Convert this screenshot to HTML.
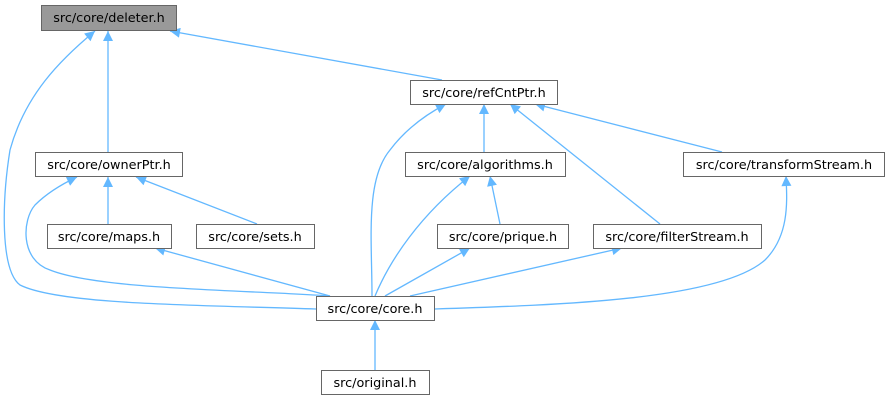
<!DOCTYPE html>
<html><head><meta charset="utf-8"><style>
html,body{margin:0;padding:0;background:#fff;}
svg{display:block;}
text{font-family:"DejaVu Sans","Liberation Sans",sans-serif;font-size:12.8px;fill:#000;}
</style></head><body>
<svg width="889" height="403" viewBox="0 0 889 403" xmlns="http://www.w3.org/2000/svg">
<defs>
<marker id="a" viewBox="0 0 10 10" refX="10" refY="5" markerWidth="11" markerHeight="10" markerUnits="userSpaceOnUse" orient="auto">
<path d="M0,0 L10,5 L0,10 z" fill="#63b8ff"/>
</marker>
</defs>
<g fill="none" stroke="#63b8ff" stroke-width="1.3" marker-end="url(#a)">
<path d="M108,152 L108,31"/>
<path d="M442,80 L170,31"/>
<path d="M316,309 C200,305 60,305 20,285 C0,270 2,200 10,150 C25,95 60,60 95,31"/>
<path d="M484,152 L484,104"/>
<path d="M372,296 C372,240 365,180 390,150 C405,130 425,115 446,104"/>
<path d="M660,224 L510,104"/>
<path d="M722,152 L535,104"/>
<path d="M108,224 L108,177"/>
<path d="M257,224 L136,177"/>
<path d="M330,296 C250,290 100,290 50,270 C20,260 22,220 35,205 C45,195 60,185 77,177"/>
<path d="M500,224 L490,176"/>
<path d="M375,296 C390,260 420,215 470,176"/>
<path d="M434,309 C560,305 720,300 765,260 C790,235 787,200 786,176"/>
<path d="M330,296 L155,248"/>
<path d="M385,296 L470,248"/>
<path d="M410,296 L622,248"/>
<path d="M375,370 L375,320"/>
</g>
<g stroke="#666" stroke-width="1" fill="#fff">
<rect x="41.5" y="5.5" width="135" height="25" fill="#999"/>
<rect x="410.5" y="80.5" width="147" height="24"/>
<rect x="35.5" y="152.5" width="147" height="24"/>
<rect x="405.5" y="152.5" width="160" height="24"/>
<rect x="683.5" y="152.5" width="201" height="24"/>
<rect x="47.5" y="224.5" width="124" height="24"/>
<rect x="196.5" y="224.5" width="118" height="24"/>
<rect x="437.5" y="224.5" width="131" height="24"/>
<rect x="593.5" y="224.5" width="168" height="24"/>
<rect x="316.5" y="296.5" width="118" height="24"/>
<rect x="321.5" y="370.5" width="108" height="24"/>
</g>
<g text-anchor="middle">
<text x="109" y="22">src/core/deleter.h</text>
<text x="484" y="97">src/core/refCntPtr.h</text>
<text x="109" y="169">src/core/ownerPtr.h</text>
<text x="485" y="169">src/core/algorithms.h</text>
<text x="784" y="169">src/core/transformStream.h</text>
<text x="109" y="241">src/core/maps.h</text>
<text x="255" y="241">src/core/sets.h</text>
<text x="503" y="241">src/core/prique.h</text>
<text x="677" y="241">src/core/filterStream.h</text>
<text x="375" y="313">src/core/core.h</text>
<text x="375" y="387">src/original.h</text>
</g>
</svg>
</body></html>
